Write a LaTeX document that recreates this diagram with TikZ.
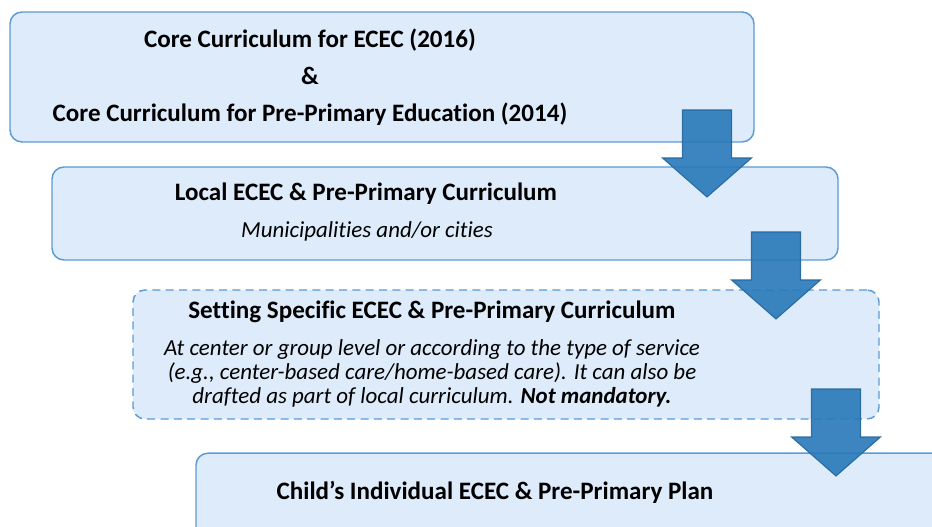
\documentclass[tikz,border=0pt]{standalone}
\usepackage{fontspec}
\setmainfont[Ligatures=CommonOff]{Carlito}
\usetikzlibrary{positioning}
\definecolor{boxfill}{RGB}{222,235,250}
\definecolor{boxline}{RGB}{91,155,213}
\definecolor{arrowfill}{RGB}{40,120,185}
\tikzset{
  stagebox/.style={draw=boxline, fill=boxfill, line width=1.1pt, rounded corners=9pt, inner sep=0pt},
  titletext/.style={font=\fontsize{18.8}{27.75}\selectfont\bfseries, align=center, inner sep=0pt},
  notetext/.style={font=\fontsize{17.2}{18}\selectfont\itshape, align=center, inner sep=0pt},
}
% block arrow: centre x, top y (pixels)
\newcommand{\stagearrow}[2]{%
  \filldraw[draw=arrowfill!85!black, fill=arrowfill, fill opacity=0.9, draw opacity=0.9, line width=0.8pt]
    (#1-24.5,#2) -- (#1+24.5,#2) -- (#1+24.5,#2+48) -- (#1+44.5,#2+48)
    -- (#1,#2+87) -- (#1-44.5,#2+48) -- (#1-24.5,#2+48) -- cycle;}

\begin{document}
\begin{tikzpicture}[x=0.75pt, y=-0.75pt]
\clip (0,0) rectangle (932,527);

% boxes
\node[stagebox, minimum width=558pt, minimum height=97.5pt] (core) at (382,77) {};
\node[stagebox, minimum width=589.5pt, minimum height=69.75pt] (local) at (445,213.5) {};
\node[stagebox, dash pattern=on 6pt off 4pt, minimum width=559.5pt, minimum height=96.75pt] (setting) at (506,354.5) {};
\node[stagebox, minimum width=595.5pt, minimum height=80pt] (child) at (593,506.5) {};

% arrows
\stagearrow{707}{110}
\stagearrow{776}{232}
\stagearrow{836}{389}

% texts
\node[titletext] (coretitle) at (310,77) {Core Curriculum for ECEC (2016)\\ \&\\ Core Curriculum for Pre-Primary Education (2014)};
\node[titletext] (localtitle) at (366,194) {Local ECEC \& Pre-Primary Curriculum};
\node[notetext] (localnote) at (367,231) {Municipalities and/or cities};
\node[titletext] (settingtitle) at (432,312) {Setting Specific ECEC \& Pre-Primary Curriculum};
\node[notetext] (settingnote) at (432,373) {At center or group level or according to the type of service\\ (e.g., center-based care/home-based care). It can also be\\ drafted as part of local curriculum. {\bfseries Not mandatory.}};
\node[titletext] (childtitle) at (495,492) {Child’s Individual ECEC \& Pre-Primary Plan};
\end{tikzpicture}
\end{document}
